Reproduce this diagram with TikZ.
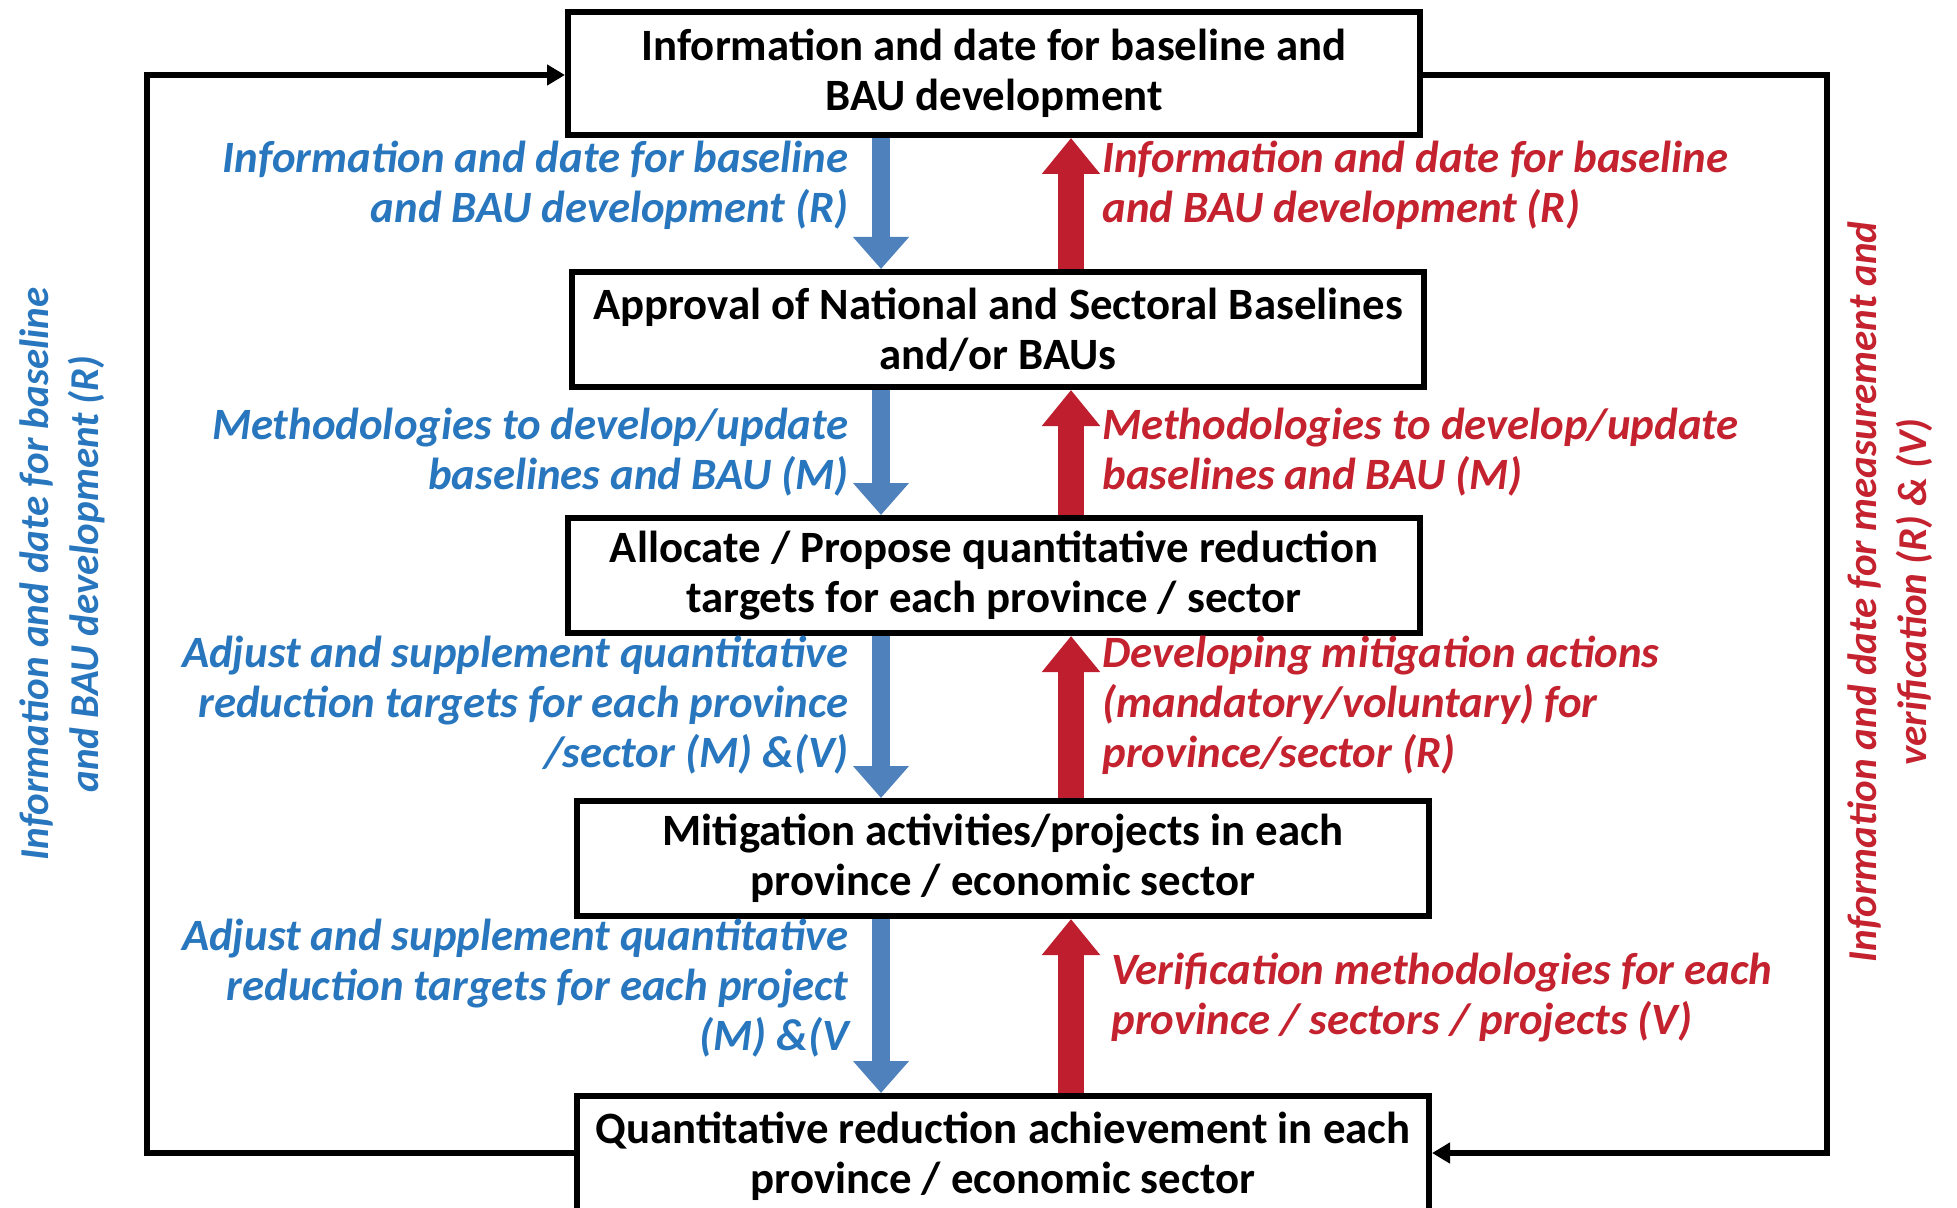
\documentclass[tikz,border=0pt]{standalone}
\usepackage{fontspec}
\setmainfont{Carlito}
\usetikzlibrary{arrows.meta}
\definecolor{txtblue}{RGB}{40,118,190}
\definecolor{txtred}{RGB}{196,34,46}
\definecolor{arrblue}{RGB}{79,129,189}
\definecolor{arrred}{RGB}{190,30,45}
\tikzset{
  box/.style={draw=black, line width=3pt, fill=white, minimum width=426pt, inner sep=0pt,
    align=center, font=\bfseries\fontsize{22.4}{25}\selectfont},
  bluelab/.style={anchor=east, align=right, inner sep=0pt, text=txtblue,
    font=\bfseries\itshape\fontsize{22.4}{25}\selectfont},
  redlab/.style={anchor=west, align=left, inner sep=0pt, text=txtred,
    font=\bfseries\itshape\fontsize{22.4}{25}\selectfont},
  sidelab/.style={rotate=90, align=center, inner sep=0pt,
    font=\bfseries\itshape\fontsize{20.5}{25}\selectfont},
  bluearrow/.style={draw=arrblue, line width=9pt, -{Triangle[width=27pt,length=16pt]}, arrblue},
  redarrow/.style={draw=arrred, line width=13pt, -{Triangle[width=28pt,length=18pt]}, arrred},
  loopline/.style={draw=black, line width=3pt, -{Triangle[width=10pt,length=9pt]}}
}
\begin{document}
\begin{tikzpicture}[x=0.5pt, y=-0.5pt]
\useasboundingbox (0,0) rectangle (1957,1208);
\fill[white] (0,0) rectangle (1957,1208);

\node[box, minimum height=61.5pt] (b1) at (994,73.5) {Information and date for baseline and\\BAU development};
\node[box, minimum height=57.5pt] (b2) at (998,329.5) {Approval of National and Sectoral Baselines\\and/or BAUs};
\node[box, minimum height=57.5pt] (b3) at (994,575.5) {Allocate / Propose quantitative reduction\\targets for each province / sector};
\node[box, minimum height=57.5pt] (b4) at (1003,858.5) {Mitigation activities/projects in each\\province / economic sector};
\node[box, minimum height=60pt] (b5) at (1003,1156) {Quantitative reduction achievement in each\\province / economic sector};

\coordinate (bx) at (881,0);
\coordinate (rx) at (1071,0);
\coordinate (L) at (147,0);
\coordinate (R) at (1827,0);

\draw[bluearrow] (bx |- b1.south) -- (bx |- b2.north);
\draw[bluearrow] (bx |- b2.south) -- (bx |- b3.north);
\draw[bluearrow] (bx |- b3.south) -- (bx |- b4.north);
\draw[bluearrow] (bx |- b4.south) -- (bx |- b5.north);

\draw[redarrow] (rx |- b2.north) -- (rx |- b1.south);
\draw[redarrow] (rx |- b3.north) -- (rx |- b2.south);
\draw[redarrow] (rx |- b4.north) -- (rx |- b3.south);
\draw[redarrow] (rx |- b5.north) -- (rx |- b4.south);

\draw[loopline] (b5.west |- 0,1153) -| (L |- 0,75) -- (b1.west |- 0,75);
\draw[loopline] (b1.east |- 0,75) -| (R |- 0,1153) -- (b5.east |- 0,1153);

\node[bluelab] (l1) at (849,185) {Information and date for baseline\\and BAU development (R)};
\node[redlab] (r1) at (1102,185) {Information and date for baseline\\and BAU development (R)};
\node[bluelab] (l2) at (849,452) {Methodologies to develop/update\\baselines and BAU (M)};
\node[redlab] (r2) at (1102,452) {Methodologies to develop/update\\baselines and BAU (M)};
\node[bluelab] (l3) at (849,705) {Adjust and supplement quantitative\\reduction targets for each province\\/sector (M) \&(V)};
\node[redlab] (r3) at (1102,705) {Developing mitigation actions\\(mandatory/voluntary) for\\province/sector (R)};
\node[bluelab] (l4) at (849,988) {Adjust and supplement quantitative\\reduction targets for each project\\(M) \&(V};
\node[redlab] (r4) at (1111,998) {Verification methodologies for each\\province / sectors / projects (V)};

\node[sidelab, text=txtblue] (sl) at (62,574) {Information and date for baseline\\and BAU development (R)};
\node[sidelab, text=txtred] (sr) at (1890,592) {Information and date for measurement and\\verification (R) \& (V)};
\end{tikzpicture}
\end{document}
